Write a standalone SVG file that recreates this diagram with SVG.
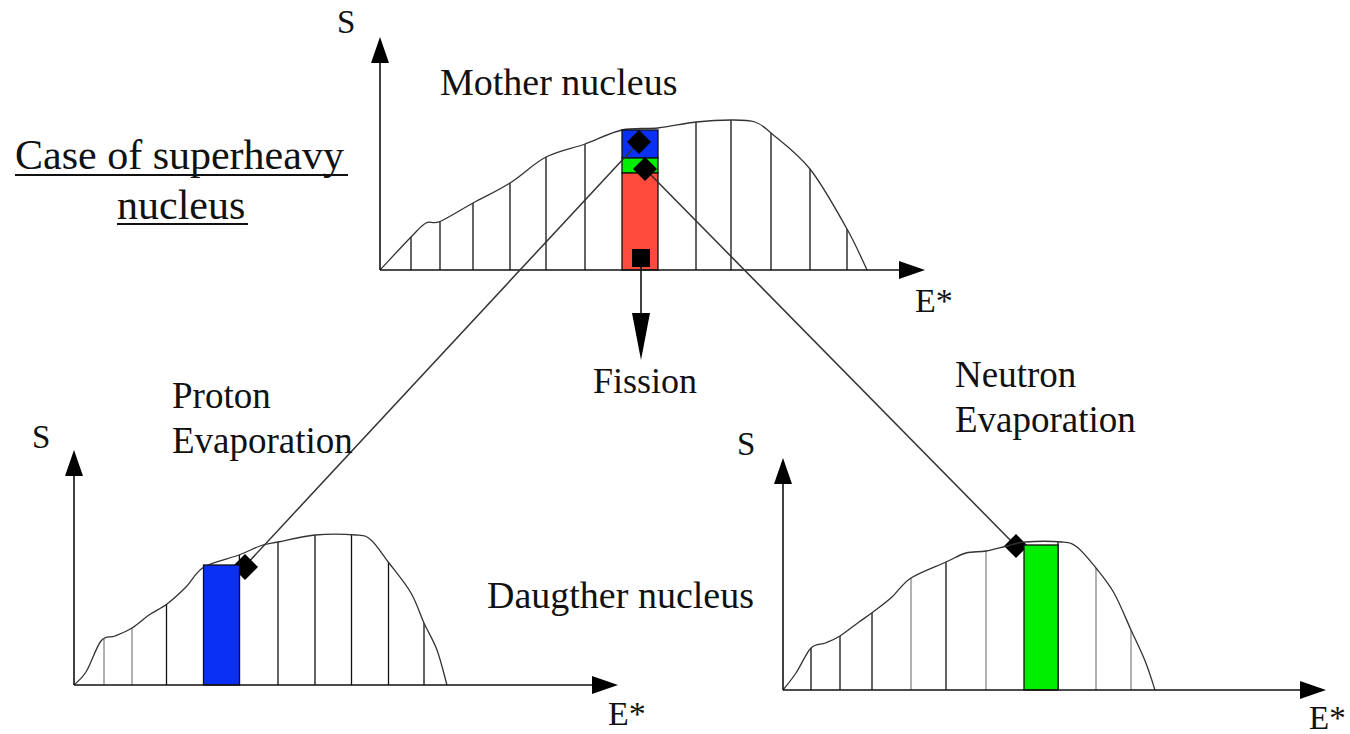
<svg xmlns="http://www.w3.org/2000/svg" width="1350" height="734" viewBox="0 0 1350 734">
<style>
.t{font-family:"Liberation Serif","Times New Roman",serif;fill:#111}
.ax{stroke:#111;stroke-width:1.6;fill:none}
.ah{fill:#000}
.cv{stroke:#333;stroke-width:1.3;fill:none}
.vl{stroke:#111;stroke-width:1.3}
.vg{stroke:#888;stroke-width:1.3}
.bar{stroke:#111;stroke-width:1.3}
.cn{stroke:#333;stroke-width:1.5;fill:none}
.dm{fill:#000}
</style>
<defs>
<path id="curveTop" d="M380,270 C385.2,264.5 403.3,244.8 411,237 C418.7,229.2 421.2,225.6 426,223 C430.8,220.4 432.2,224.8 440,221.5 C447.8,218.2 461.3,209.4 473,203 C484.7,196.6 497.8,190.7 510,183 C522.2,175.3 533.5,163.5 546,157 C558.5,150.5 572.3,148.5 585,144 C597.7,139.5 609.8,132.7 622,130 C634.2,127.3 645.7,129.3 658,128 C670.3,126.7 683.8,123.3 696,122 C708.2,120.7 721.2,120 731,120 C740.8,120 748.3,119.8 755,122 C761.7,124.2 761.8,125.2 771,133 C780.2,140.8 797.3,153 810,169 C822.7,185 837.5,212.2 847,229 C856.5,245.8 863.7,263.2 867,270"/>
<path id="curveL" d="M74,685 C76,682.8 81.5,679.3 86,672 C90.5,664.7 96.2,647 101,641 C105.8,635 109.8,638.2 115,636 C120.2,633.8 126.3,631.5 132,628 C137.7,624.5 143.2,619 149,615 C154.8,611 160.8,608.7 167,604 C173.2,599.3 179.8,593.2 186,587 C192.2,580.8 195.2,572.3 204,567 C212.8,561.7 229.7,558.5 239,555 C248.3,551.5 253.5,548.2 260,546 C266.5,543.8 268.8,543.8 278,542 C287.2,540.2 302,536.2 315,535 C328,533.8 346.7,534.2 356,535 C365.3,535.8 365.5,535.3 371,540 C376.5,544.7 382.3,554.2 389,563 C395.7,571.8 405.2,583 411,593 C416.8,603 419.7,613.5 424,623 C428.3,632.5 433.2,639.7 437,650 C440.8,660.3 445.3,679.2 447,685"/>
<path id="curveR" d="M783,690 C785.2,687.2 791.3,680 796,673 C800.7,666 806.1,653 811,648 C815.9,643 820.7,645 825.5,643 C830.3,641 834.4,639.5 840,636 C845.6,632.5 853.5,626 859,622 C864.5,618 867.5,616.2 873,612 C878.5,607.8 885.7,602.7 892,597 C898.3,591.3 902,583.8 911,578 C920,572.2 936.8,566.2 946,562 C955.2,557.8 959.3,554.8 966,553 C972.7,551.2 979.2,552.2 986,551 C992.8,549.8 1000.5,547.5 1007,546 C1013.5,544.5 1015.8,542.7 1025,542 C1034.2,541.3 1053.3,541.2 1062,542 C1070.7,542.8 1071.3,542.7 1077,547 C1082.7,551.3 1089.8,560.3 1096,568 C1102.2,575.7 1108.2,582.7 1114,593 C1119.8,603.3 1125.8,618.5 1131,630 C1136.3,641.5 1141.5,652 1145.5,662 C1149.5,672 1153.4,685.3 1155,690"/>
<clipPath id="clipTop"><path d="M380,270 C385.2,264.5 403.3,244.8 411,237 C418.7,229.2 421.2,225.6 426,223 C430.8,220.4 432.2,224.8 440,221.5 C447.8,218.2 461.3,209.4 473,203 C484.7,196.6 497.8,190.7 510,183 C522.2,175.3 533.5,163.5 546,157 C558.5,150.5 572.3,148.5 585,144 C597.7,139.5 609.8,132.7 622,130 C634.2,127.3 645.7,129.3 658,128 C670.3,126.7 683.8,123.3 696,122 C708.2,120.7 721.2,120 731,120 C740.8,120 748.3,119.8 755,122 C761.7,124.2 761.8,125.2 771,133 C780.2,140.8 797.3,153 810,169 C822.7,185 837.5,212.2 847,229 C856.5,245.8 863.7,263.2 867,270 L867,272 L380,272 Z"/></clipPath>
<clipPath id="clipL"><path d="M74,685 C76,682.8 81.5,679.3 86,672 C90.5,664.7 96.2,647 101,641 C105.8,635 109.8,638.2 115,636 C120.2,633.8 126.3,631.5 132,628 C137.7,624.5 143.2,619 149,615 C154.8,611 160.8,608.7 167,604 C173.2,599.3 179.8,593.2 186,587 C192.2,580.8 195.2,572.3 204,567 C212.8,561.7 229.7,558.5 239,555 C248.3,551.5 253.5,548.2 260,546 C266.5,543.8 268.8,543.8 278,542 C287.2,540.2 302,536.2 315,535 C328,533.8 346.7,534.2 356,535 C365.3,535.8 365.5,535.3 371,540 C376.5,544.7 382.3,554.2 389,563 C395.7,571.8 405.2,583 411,593 C416.8,603 419.7,613.5 424,623 C428.3,632.5 433.2,639.7 437,650 C440.8,660.3 445.3,679.2 447,685 L447,688 L74,688 Z"/></clipPath>
<clipPath id="clipR"><path d="M783,690 C785.2,687.2 791.3,680 796,673 C800.7,666 806.1,653 811,648 C815.9,643 820.7,645 825.5,643 C830.3,641 834.4,639.5 840,636 C845.6,632.5 853.5,626 859,622 C864.5,618 867.5,616.2 873,612 C878.5,607.8 885.7,602.7 892,597 C898.3,591.3 902,583.8 911,578 C920,572.2 936.8,566.2 946,562 C955.2,557.8 959.3,554.8 966,553 C972.7,551.2 979.2,552.2 986,551 C992.8,549.8 1000.5,547.5 1007,546 C1013.5,544.5 1015.8,542.7 1025,542 C1034.2,541.3 1053.3,541.2 1062,542 C1070.7,542.8 1071.3,542.7 1077,547 C1082.7,551.3 1089.8,560.3 1096,568 C1102.2,575.7 1108.2,582.7 1114,593 C1119.8,603.3 1125.8,618.5 1131,630 C1136.3,641.5 1141.5,652 1145.5,662 C1149.5,672 1153.4,685.3 1155,690 L1155,693 L783,693 Z"/></clipPath>
</defs>
<rect width="1350" height="734" fill="#fff"/>

<g id="title">
<text class="t" x="15" y="169" font-size="42">Case of superheavy</text>
<line x1="15" y1="175" x2="348" y2="175" stroke="#111" stroke-width="2"/>
<text class="t" x="117" y="219" font-size="42">nucleus</text>
<line x1="117" y1="224" x2="248" y2="224" stroke="#111" stroke-width="2"/>
</g>

<g id="mother-chart">
<g clip-path="url(#clipTop)">
<path class="vl" d="M411,270V100M440,270V100M473,270V100M510,270V100M546,270V100M585,270V100M696,270V100M731,270V100M771,270V100M810,270V100M847,270V100"/>
</g>
<use href="#curveTop" class="cv"/>
<rect class="bar" x="622" y="130" width="36" height="28" fill="#0a30f5"/>
<rect class="bar" x="622" y="158" width="36" height="15" fill="#00ee00"/>
<rect class="bar" x="622" y="173" width="36" height="97" fill="#ff4b3e"/>
<rect x="632" y="249" width="18" height="18" fill="#000"/>
<line class="ax" x1="380" y1="270" x2="380" y2="60"/>
<polygon class="ah" points="380,37 371,63 389,63"/>
<line class="ax" x1="380" y1="270" x2="900" y2="270"/>
<polygon class="ah" points="925,270 899,261 899,279"/>
<text class="t" x="337" y="33" font-size="33">S</text>
<text class="t" x="915" y="312" font-size="34">E*</text>
<text class="t" x="440" y="95" font-size="38">Mother nucleus</text>
</g>

<g id="fission">
<line class="ax" x1="641" y1="267" x2="641" y2="315"/>
<polygon class="ah" points="641,360 632,313 650,313"/>
<text class="t" x="593" y="393" font-size="36">Fission</text>
</g>

<g id="connectors">
<line class="cn" x1="639" y1="142" x2="244" y2="567"/>
<line class="cn" x1="645" y1="169" x2="1016" y2="546"/>
<polygon class="dm" points="639,130 651,142 639,154 627,142"/>
<polygon class="dm" points="645,157 657,169 645,181 633,169"/>
<polygon class="dm" points="245,554 258,567 245,580 232,567"/>
<polygon class="dm" points="1016,534 1028,546 1016,558 1004,546"/>
</g>

<g id="proton-chart">
<g clip-path="url(#clipL)">
<path class="vg" d="M104,685V500M132,685V500"/>
<path class="vl" d="M166.5,685V500M239.4,685V500M278,685V500M315,685V500M351.5,685V500M388.5,685V500M424,685V500"/>
</g>
<use href="#curveL" class="cv"/>
<rect class="bar" x="203.5" y="565" width="36" height="120" fill="#0a30f5"/>
<line class="ax" x1="74" y1="685" x2="74" y2="474"/>
<polygon class="ah" points="74,450 65,476 83,476"/>
<line class="ax" x1="74" y1="685" x2="594" y2="685"/>
<polygon class="ah" points="618,685 592,676 592,694"/>
<text class="t" x="32" y="448" font-size="33">S</text>
<text class="t" x="608" y="725" font-size="34">E*</text>
<text class="t" x="172" y="408" font-size="37">Proton</text>
<text class="t" x="172" y="453" font-size="37">Evaporation</text>
</g>

<g id="neutron-chart">
<g clip-path="url(#clipR)">
<path class="vl" d="M811,690V500M840,690V500M872,690V500M946,690V500M1058,690V500"/>
<path class="vg" d="M911,690V500M986,690V500M1096,690V500M1131,690V500"/>
</g>
<use href="#curveR" class="cv"/>
<rect class="bar" x="1024" y="545" width="34" height="145" fill="#00ee00"/>
<line class="ax" x1="783" y1="690" x2="783" y2="482"/>
<polygon class="ah" points="783,458 774,484 792,484"/>
<line class="ax" x1="783" y1="690" x2="1302" y2="690"/>
<polygon class="ah" points="1326,690 1300,681 1300,699"/>
<text class="t" x="737" y="455" font-size="33">S</text>
<text class="t" x="1309" y="729" font-size="33">E*</text>
<text class="t" x="955" y="387" font-size="37">Neutron</text>
<text class="t" x="955" y="432" font-size="37">Evaporation</text>
</g>

<g id="daughter-label">
<text class="t" x="487" y="608" font-size="38">Daugther nucleus</text>
</g>
</svg>
